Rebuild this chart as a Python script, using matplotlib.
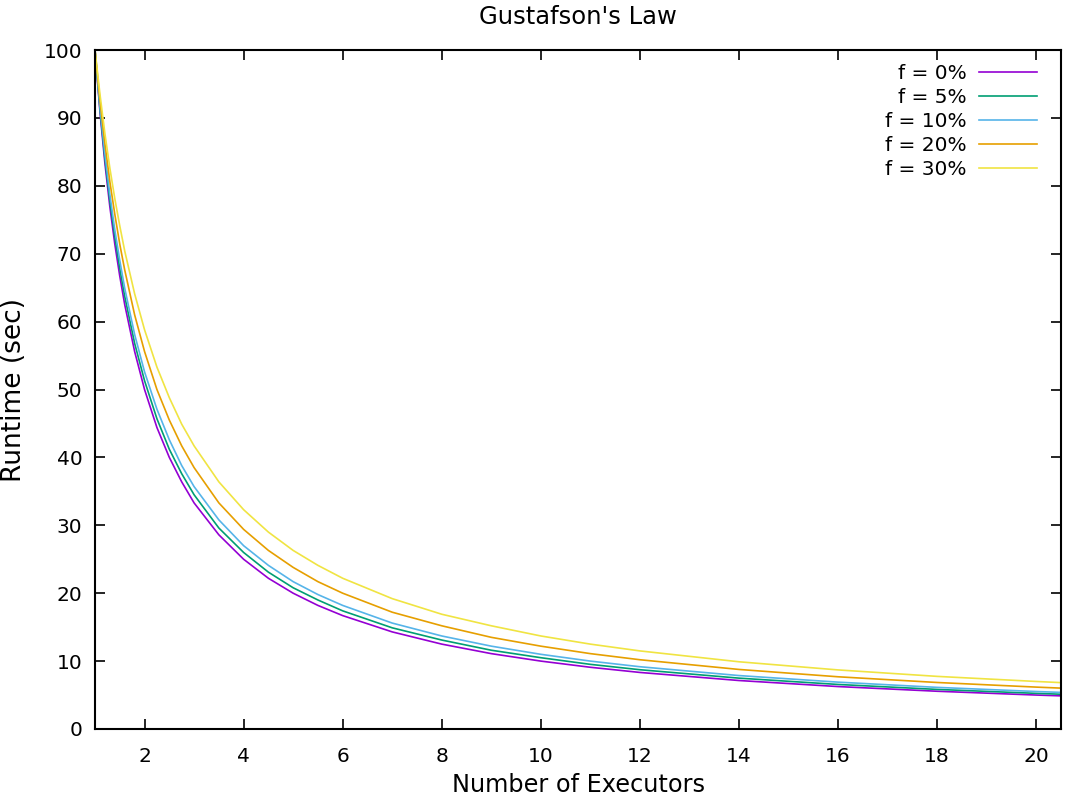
import matplotlib
matplotlib.use("Agg")
import matplotlib.pyplot as plt

executors = [1, 1.1, 1.2, 1.3, 1.4, 1.5, 1.6, 1.8, 2, 2.25, 2.5, 2.75, 3, 3.5, 4, 4.5, 5, 5.5,
             6, 7, 8, 9, 10, 11, 12, 14, 16, 18, 20, 20.5]

runtime_f0 = [100, 90.9, 83.3, 76.9, 71.4, 66.7, 62.5, 55.6, 50.0, 44.4, 40.0, 36.4, 33.3, 28.6, 25.0,
              22.2, 20.0, 18.2, 16.7, 14.3, 12.5, 11.1, 10.0, 9.09, 8.33, 7.14, 6.25, 5.56, 5.0, 4.88]
runtime_f5 = [100, 91.3, 84.0, 77.8, 72.5, 67.8, 63.7, 56.8, 51.3, 45.7, 41.2, 37.6, 34.5, 29.6, 26.0,
              23.1, 20.8, 19.0, 17.4, 14.9, 13.1, 11.6, 10.5, 9.52, 8.73, 7.49, 6.56, 5.83, 5.25, 5.12]
runtime_f10 = [100, 91.7, 84.7, 78.7, 73.5, 69.0, 64.9, 58.1, 52.6, 47.1, 42.6, 38.8, 35.7, 30.8, 27.0,
               24.1, 21.7, 19.8, 18.2, 15.6, 13.7, 12.2, 11.0, 10.0, 9.17, 7.87, 6.90, 6.13, 5.52, 5.39]
runtime_f20 = [100, 92.6, 86.2, 80.6, 75.8, 71.4, 67.6, 61.0, 55.6, 50.0, 45.5, 41.7, 38.5, 33.3, 29.4,
               26.3, 23.8, 21.7, 20.0, 17.2, 15.2, 13.5, 12.2, 11.1, 10.2, 8.77, 7.69, 6.85, 6.17, 6.02]
runtime_f30 = [100, 93.5, 87.7, 82.6, 78.1, 74.1, 70.4, 64.1, 58.8, 53.3, 48.8, 44.9, 41.7, 36.4, 32.3,
               29.0, 26.3, 24.1, 22.2, 19.2, 16.9, 15.2, 13.7, 12.5, 11.5, 9.90, 8.70, 7.75, 7.0, 6.83]

labels = ["f = 0%", "f = 5%", "f = 10%", "f = 20%", "f = 30%"]
colors = ["#9400d3", "#009e73", "#56b4e9", "#e69f00", "#f0e442"]
series = [runtime_f0, runtime_f5, runtime_f10, runtime_f20, runtime_f30]

x_ticks = [2, 4, 6, 8, 10, 12, 14, 16, 18, 20]
y_ticks = [0, 10, 20, 30, 40, 50, 60, 70, 80, 90, 100]

plt.rcParams['font.family'] = ['DejaVu Sans']

fig = plt.figure(figsize=(10.65, 7.99), dpi=100)
ax = fig.add_axes([95/1065, 1 - 729/799, (1061-95)/1065, (729-50)/799])

for y, lab, c in zip(series, labels, colors):
    ax.plot(executors, y, color=c, lw=1.2, label=lab)

ax.set_xlim(1, 20.5)
ax.set_ylim(0, 100)
ax.set_xticks(x_ticks)
ax.set_yticks(y_ticks)
ax.tick_params(direction='in', length=7, width=1.2, top=True, right=True, labelsize=14.5)
ax.tick_params(axis='x', pad=13)
ax.tick_params(axis='y', pad=9)
for s in ax.spines.values():
    s.set_linewidth(1.5)

ax.set_title("Gustafson's Law", fontsize=17.5, pad=19)
ax.set_xlabel("Number of Executors", fontsize=17.3, labelpad=5)
ax.set_ylabel("Runtime (sec)", fontsize=19, labelpad=12)

leg = ax.legend(loc='upper right', frameon=False, markerfirst=False, fontsize=14.5,
                handlelength=2.9, labelspacing=0.25, handletextpad=0.6,
                borderaxespad=0.3, bbox_to_anchor=(0.99, 1.0))
for t in leg.get_texts():
    t.set_ha('right')

fig.savefig("out.png", dpi=100)
